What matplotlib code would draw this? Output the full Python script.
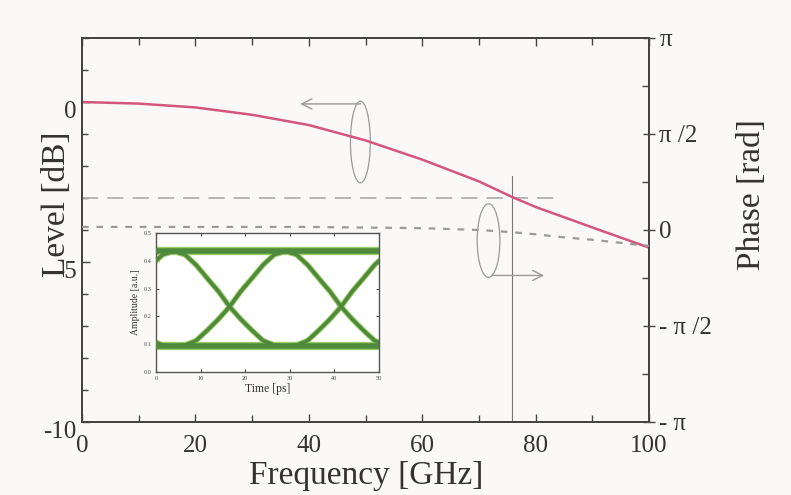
import numpy as np
import matplotlib
matplotlib.use("Agg")
import matplotlib.pyplot as plt
from matplotlib.patches import Ellipse
from matplotlib.transforms import ScaledTranslation
from matplotlib.ticker import MultipleLocator

# ---- data ----
freq_ghz = [0, 10, 20, 30, 40, 50, 60, 70, 76, 80, 90, 100]
level_db = [0.0, -0.05, -0.17, -0.4, -0.72, -1.2, -1.8, -2.48, -2.98, -3.28, -3.92, -4.55]

phase_freq = [0, 10, 20, 30, 40, 50, 60, 70, 75, 80, 85, 90, 95, 100]
phase_rad = [0.05, 0.05, 0.05, 0.05, 0.05, 0.04, 0.03, 0.0, -0.03, -0.07, -0.12, -0.16, -0.21, -0.26]

ref_level_db = -3.0      # -3 dB reference line
ref_freq_end = 83.5      # end of the -3 dB line
bw_freq = 75.9           # 3-dB bandwidth marker
bw_top_db = -2.3

# eye diagram (inset)
edge_t = [-12.5, -10, -7.5, -5, -2.5, 0, 2.5, 5, 7.5, 10, 12.5]
rise_amp = [0.094, 0.097, 0.113, 0.15, 0.19, 0.235, 0.29, 0.337, 0.385, 0.422, 0.434]
crossings_ps = [-8.5, 16.5, 41.5]
eye_high = 0.434
eye_low = 0.094

x_ticks = [0, 20, 40, 60, 80, 100]
y_ticks = [-10, -5, 0]
phase_ticks = [-np.pi, -np.pi / 2, 0, np.pi / 2, np.pi]
phase_labels = ["- \u03c0", "- \u03c0 /2", "0", "\u03c0 /2", "\u03c0"]
inset_xticks = [0, 10, 20, 30, 40, 50]
inset_yticks = [0.0, 0.1, 0.2, 0.3, 0.4, 0.5]

# ---- style ----
plt.rcParams['font.family'] = ['Liberation Serif', 'DejaVu Serif']
bg = '#fbf9f7'
spine_c = '#444444'
red = '#d4567a'
gray = '#9a9a9a'

fig = plt.figure(figsize=(7.91, 4.95), dpi=100, facecolor=bg)
ax = fig.add_axes([82 / 791, (495 - 422) / 495, 567 / 791, 384 / 495])
ax.set_facecolor(bg)

ax.set_xlim(0, 100)
ax.set_ylim(-10, 2)

# -3 dB reference line and bandwidth marker
ax.plot([0, ref_freq_end], [ref_level_db, ref_level_db], color='#b0b0b0', lw=1.3,
        dashes=(9, 5), zorder=2)
ax.plot([bw_freq, bw_freq], [-10, bw_top_db], color='#777777', lw=0.8, zorder=2)

# level curve
ax.plot(freq_ghz, level_db, color=red, lw=1.8, zorder=4)

# phase curve on twin axis
ax2 = ax.twinx()
ax2.set_ylim(-np.pi, np.pi)
ax2.plot(phase_freq, phase_rad, color=gray, lw=1.6, dashes=(3, 3.5), zorder=3)

# annotation ellipses and arrows
ax.add_patch(Ellipse((49.1, -1.25), 3.5, 2.55, fill=False, ec='#9a9a9a', lw=0.9))
ax.annotate('', xy=(38, -0.06), xytext=(49.6, -0.06),
            arrowprops=dict(arrowstyle='->', color='#9a9a9a', lw=1.0, mutation_scale=18))
ax.add_patch(Ellipse((71.7, -4.33), 4.0, 2.3, fill=False, ec='#9a9a9a', lw=0.9))
ax.annotate('', xy=(82, -5.42), xytext=(71.8, -5.42),
            arrowprops=dict(arrowstyle='->', color='#9a9a9a', lw=1.0, mutation_scale=18))

# ticks & spines
for a in (ax, ax2):
    for s in a.spines.values():
        s.set_color(spine_c)
        s.set_linewidth(1.4)

ax.set_xticks(x_ticks)
ax.xaxis.set_minor_locator(MultipleLocator(10))
ax.set_yticks(y_ticks)
ax.set_yticklabels(['-10', '-5', '0'])
ax.yaxis.set_minor_locator(MultipleLocator(1))
ax.tick_params(axis='x', which='both', direction='in', top=True, colors=spine_c,
               labelcolor='#333333', labelsize=18, pad=9)
ax.tick_params(axis='x', which='major', length=6, width=1)
ax.tick_params(axis='x', which='minor', length=5, width=1)
ax.tick_params(axis='y', which='both', direction='in', right=False, colors=spine_c,
               labelcolor='#333333', labelsize=18, pad=4)
ax.tick_params(axis='y', which='major', length=6, width=1)
ax.tick_params(axis='y', which='minor', length=4, width=1)
for lab in ax.get_yticklabels():
    lab.set_transform(lab.get_transform() + ScaledTranslation(0, -0.07, fig.dpi_scale_trans))

ax2.set_yticks(phase_ticks)
ax2.set_yticklabels(phase_labels)
ax2.yaxis.set_minor_locator(MultipleLocator(np.pi / 4))
ax2.tick_params(axis='y', which='major', direction='inout', length=9, width=1,
                colors=spine_c, labelcolor='#333333', labelsize=18, pad=3)
ax2.tick_params(axis='y', which='minor', direction='in', length=5, width=1, colors=spine_c)

fig.text(366 / 791, 1 - 476 / 495, 'Frequency [GHz]', ha='center', va='center',
         fontsize=24, color='#333333')
fig.text(57 / 791, 1 - 204 / 495, 'Level [dB]', ha='center', va='center',
         rotation=90, fontsize=24, color='#333333')
fig.text(752 / 791, 1 - 195 / 495, 'Phase [rad]', ha='center', va='center',
         rotation=90, fontsize=24, color='#333333')

# ---- inset eye diagram ----
ins = fig.add_axes([156 / 791, (495 - 372) / 495, 223 / 791, 139 / 495])
ins.set_facecolor('white')
ins.set_xlim(0, 50)
ins.set_ylim(0, 0.5)
fall_amp = rise_amp[::-1]
dark_g = '#4f8a3c'
light_g = '#9ccc65'
for lvl in (eye_high, eye_low):
    ins.plot([0, 50], [lvl, lvl], color=light_g, lw=6.0, solid_capstyle='butt', zorder=2)
    ins.plot([0, 50], [lvl, lvl], color=dark_g, lw=4.0, solid_capstyle='butt', zorder=3)
for c in crossings_ps:
    ts = [c + t for t in edge_t]
    for amps in (rise_amp, fall_amp):
        ins.plot(ts, amps, color=light_g, lw=4.0, zorder=2, solid_joinstyle='round')
        ins.plot(ts, amps, color=dark_g, lw=2.6, zorder=3, solid_joinstyle='round')
ins.set_xticks(inset_xticks)
ins.set_yticks(inset_yticks)
ins.set_yticklabels(['%.1f' % v for v in inset_yticks])
ins.tick_params(direction='in', labelsize=4.5, length=2.5, width=0.8, colors='#444444',
                top=True, right=True, pad=3)
for s in ins.spines.values():
    s.set_color('#555555')
    s.set_linewidth(1.0)
ins.set_xlabel('Time [ps]', fontsize=8.5, labelpad=1.5, color='#333333')
ins.set_ylabel('Amplitude [a.u.]', fontsize=7, labelpad=3, color='#333333')

fig.savefig('out.png', dpi=100, facecolor=bg)
